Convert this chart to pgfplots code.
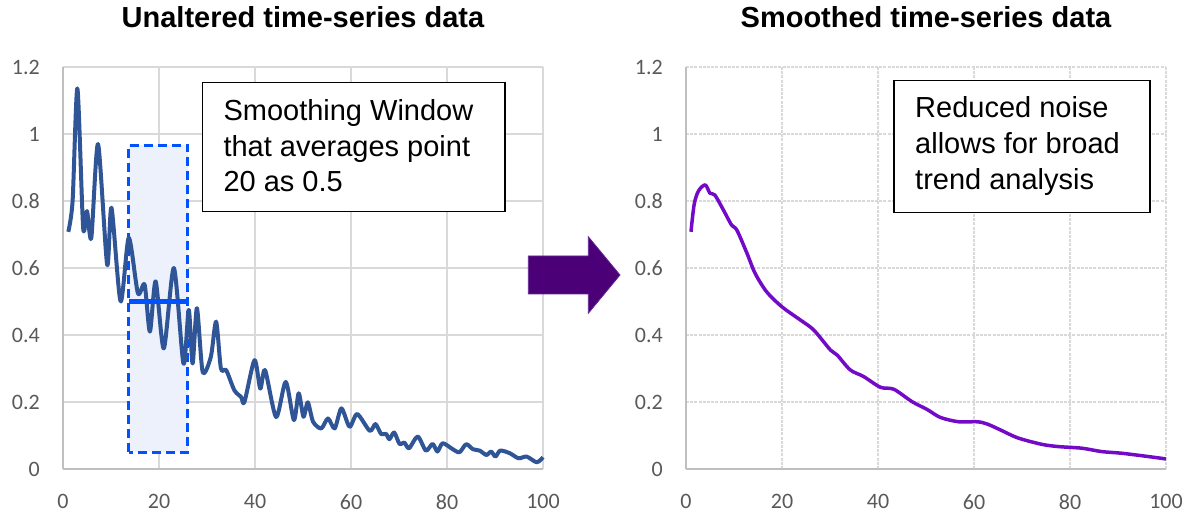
\documentclass[border=0pt]{standalone}
\usepackage{fontspec}
\setmainfont{Liberation Sans}
\newfontfamily\carlito{Carlito}
\usepackage{pgfplots}
\pgfplotsset{compat=1.18}
\definecolor{rawblue}{RGB}{47,85,151}
\definecolor{smpurple}{RGB}{115,10,200}
\definecolor{arrowpurple}{RGB}{75,0,120}
\definecolor{arrowedge}{RGB}{100,40,150}
\definecolor{winblue}{RGB}{0,82,255}
\definecolor{winfill}{RGB}{236,241,252}
\definecolor{ticklab}{RGB}{89,89,89}
\definecolor{gridgray}{RGB}{217,217,217}
\definecolor{axgray}{RGB}{191,191,191}

\pgfplotsset{
  myax/.style={
    scale only axis, width=480pt, height=402pt,
    xmin=0, xmax=100, ymin=0, ymax=1.2,
    xtick={0,20,40,60,80,100},
    ytick={0,0.2,0.4,0.6,0.8,1,1.2},
    /pgf/number format/assume math mode=true,
    tick label style={font=\carlito\fontsize{22}{22}\selectfont, text=ticklab},
    yticklabel style={anchor=east, inner sep=0pt, xshift=-23pt},
    xticklabel style={anchor=north, inner sep=0pt, yshift=-25.5pt},
    major tick length=0pt,
    grid=major,
    axis lines*=left,
    axis line style={draw=axgray, line width=1.8pt, -},
    title style={font=\fontsize{29}{29}\selectfont\bfseries, anchor=base, at={(0.5,1)}, yshift=33pt},
    clip=false,
  }
}

\begin{document}
\begin{tikzpicture}[x=1pt,y=1pt]
\useasboundingbox (0,0) rectangle (1192,514);

\begin{axis}[myax, at={(63pt,45pt)}, anchor=south west,
  title={Unaltered time-series data},
  major grid style={draw=gridgray, line width=1.6pt}]
\fill[winfill] (13.7,0.05) rectangle (26,0.967);
\draw[winblue, line width=3pt, dash pattern=on 9pt off 5pt] (13.7,0.05) rectangle (26,0.967);
\addplot[rawblue, line width=4pt, smooth, tension=0.45, line join=round] coordinates {
(1.1,0.708) (2,0.80) (3,1.136) (4.2,0.72) (5,0.77) (5.9,0.69) (7.3,0.97) (9.2,0.61) (10.1,0.78) (12.0,0.50) (13.7,0.69) (15.6,0.525) (17,0.55) (18.1,0.41) (19.3,0.56) (21.0,0.36) (23.1,0.60) (25.1,0.315) (26.2,0.475) (27,0.315) (27.9,0.48) (29.1,0.29) (30.8,0.335) (31.9,0.44) (32.9,0.30) (34,0.295) (35.7,0.235) (37.1,0.215) (37.8,0.20) (39.9,0.325) (41.1,0.24) (42.1,0.295) (44.4,0.155) (46.4,0.26) (48.1,0.146) (49.1,0.226) (50.1,0.156) (51,0.199) (52.1,0.141) (53.8,0.121) (55.2,0.151) (56.6,0.121) (58,0.181) (59.7,0.126) (61.3,0.164) (63.9,0.114) (65.1,0.134) (66.3,0.104) (67.3,0.105) (68,0.089) (69,0.109) (70.1,0.075) (71.1,0.079) (72.1,0.062) (73.9,0.097) (75.6,0.055) (77,0.075) (78,0.052) (79.1,0.077) (81.2,0.059) (82.6,0.050) (84,0.074) (85.4,0.059) (86.8,0.055) (88.2,0.042) (89.2,0.052) (90.1,0.037) (91.1,0.055) (93.1,0.047) (94.9,0.032) (96.6,0.037) (98.7,0.020) (100,0.035)
};
\draw[winblue, line width=5pt] (13.7,0.5) -- (26,0.5);
\end{axis}

\begin{axis}[myax, at={(686pt,45pt)}, anchor=south west,
  title={Smoothed time-series data},
  major grid style={draw=gridgray, line width=1.6pt, dash pattern=on 3pt off 1.2pt}]
\addplot[smpurple, line width=3.5pt, smooth, tension=0.5, line join=round] coordinates {
(1.04,0.708) (1.7,0.79) (2.6,0.83) (4,0.848) (5,0.823) (6,0.818) (7.8,0.773) (9.5,0.728) (10.6,0.713) (12.7,0.644) (14.4,0.584) (16.8,0.529) (20,0.484) (23.8,0.445) (26.6,0.415) (30.1,0.355) (31.5,0.340) (34.2,0.296) (37.0,0.276) (40.5,0.244) (43.3,0.238) (47.1,0.201) (50.2,0.178) (53.0,0.154) (56.8,0.141) (60.7,0.141) (62.8,0.134) (65.6,0.116) (69.1,0.093) (74,0.074) (77.5,0.067) (82.5,0.062) (86.6,0.052) (90.8,0.047) (96.4,0.037) (100,0.030)
};
\end{axis}

% text boxes
\draw[fill=white, draw=black, line width=1.2pt] (202.3,431.3) rectangle (505,302.3);
\node[anchor=base west, inner sep=0pt, font=\fontsize{29}{29}\selectfont] at (223.3,393.3) {Smoothing Window};
\node[anchor=base west, inner sep=0pt, font=\fontsize{29}{29}\selectfont] at (223.3,357.3) {that averages point};
\node[anchor=base west, inner sep=0pt, font=\fontsize{29}{29}\selectfont] at (223.3,322.3) {20 as 0.5};

\draw[fill=white, draw=black, line width=1.2pt] (894,433.3) rectangle (1150,301.3);
\node[anchor=base west, inner sep=0pt, font=\fontsize{29}{29}\selectfont] at (915,396.3) {Reduced noise};
\node[anchor=base west, inner sep=0pt, font=\fontsize{29}{29}\selectfont] at (915,360) {allows for broad};
\node[anchor=base west, inner sep=0pt, font=\fontsize{29}{29}\selectfont] at (915,324) {trend analysis};

% arrow
\draw[fill=arrowpurple, draw=arrowedge, line width=0.8pt, line join=miter]
  (528.3,258) -- (588.3,258) -- (588.3,277.3) -- (620,239) -- (588.3,200.7) -- (588.3,220) -- (528.3,220) -- cycle;
\end{tikzpicture}
\end{document}
